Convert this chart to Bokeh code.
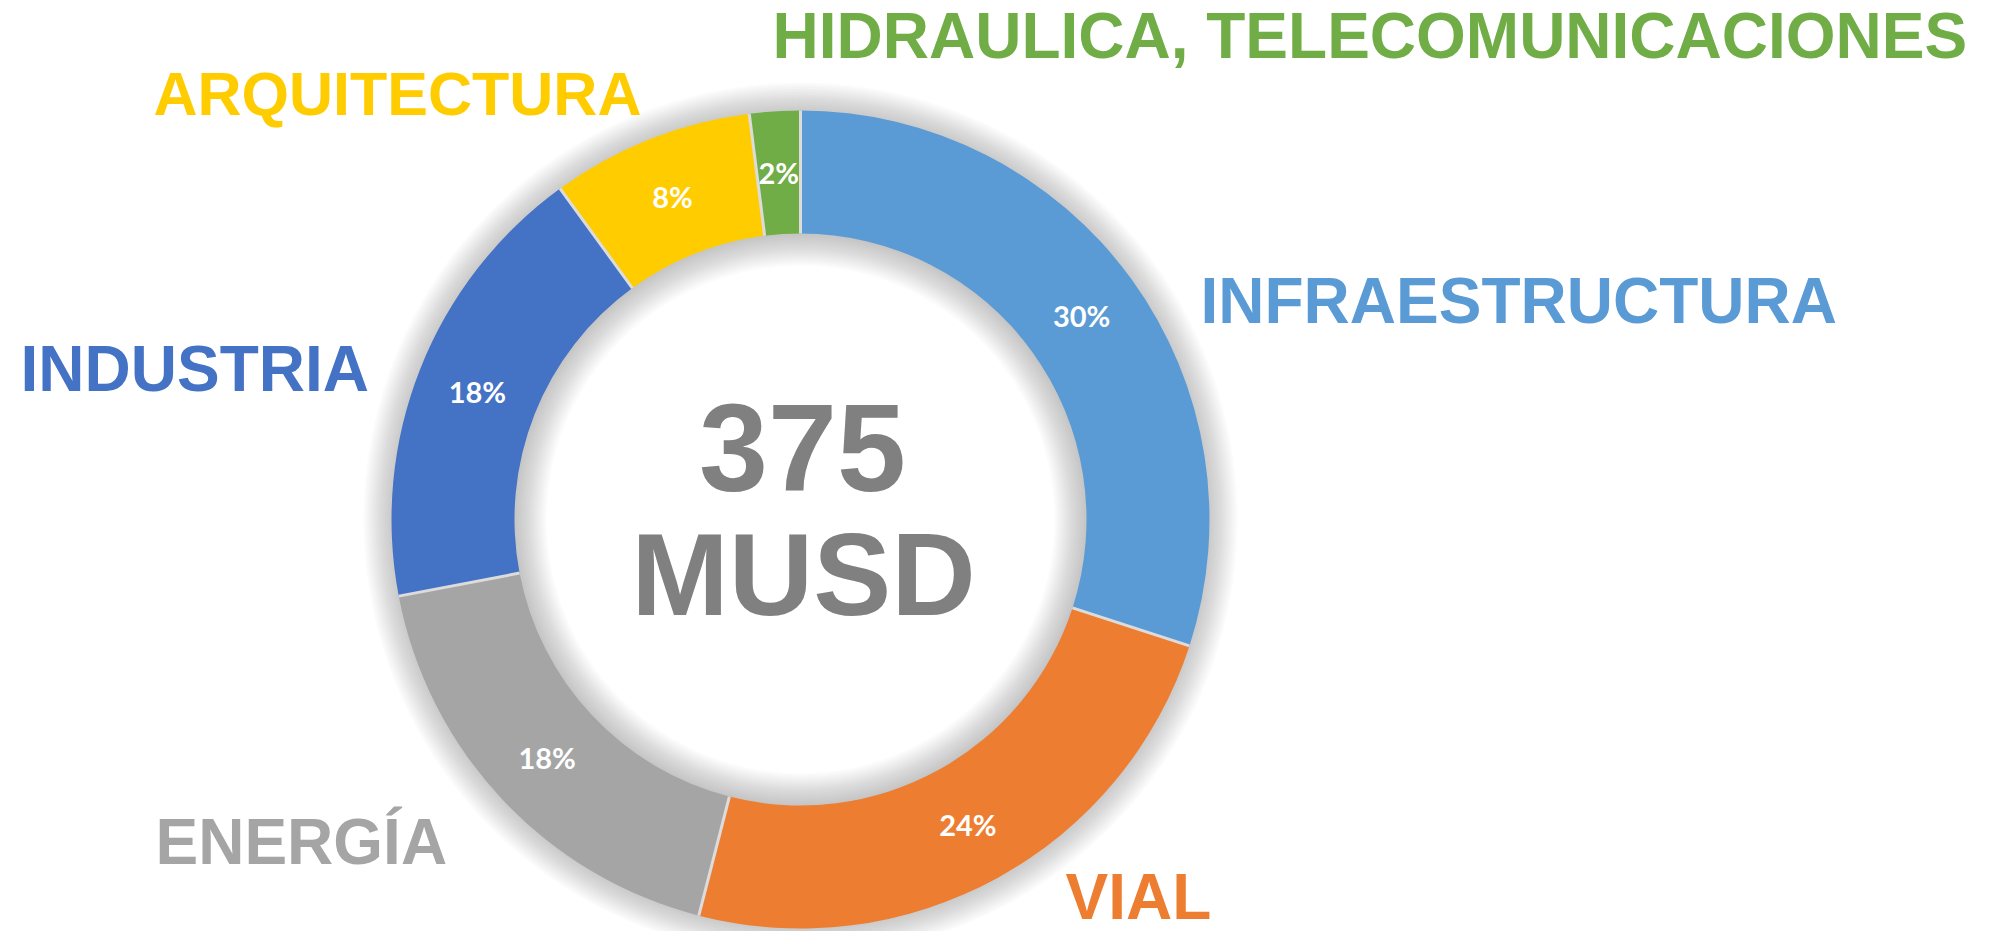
import numpy as np
from bokeh.plotting import figure
from bokeh.models import Range1d, ColumnDataSource
from bokeh.core.properties import value
from bokeh.embed import file_html
from bokeh.resources import INLINE

# ---- data ----
categories = ["INFRAESTRUCTURA", "VIAL", "ENERGÍA", "INDUSTRIA", "ARQUITECTURA",
              "HIDRAULICA, TELECOMUNICACIONES"]
shares = [30, 24, 18, 18, 8, 2]
colors = ["#5B9BD5", "#ED7D31", "#A5A5A5", "#4472C4", "#FFCC00", "#70AD47"]
total_value = "375"
total_unit = "MUSD"

# ---- layout ----
W, H = 1997, 931
CX, CY = 800, H - 519
R_OUT, R_IN = 409, 286

p = figure(width=W, height=H, output_backend="svg", toolbar_location=None,
           x_range=Range1d(0, W), y_range=Range1d(0, H), min_border=0,
           background_fill_color="white", border_fill_color="white")
p.axis.visible = False
p.grid.visible = False
p.outline_line_color = None

# soft shadow (outer and inner)
for d in range(2, 30, 2):
    p.annulus(x=[CX], y=[CY], inner_radius=R_OUT - 2, outer_radius=R_OUT + d,
              fill_color="#7f7f7f", fill_alpha=0.028, line_color=None)
for d in range(2, 34, 2):
    p.annulus(x=[CX], y=[CY], inner_radius=R_IN - d, outer_radius=R_IN + 2,
              fill_color="#7f7f7f", fill_alpha=0.028, line_color=None)

vals = np.array(shares, dtype=float)
frac = vals / vals.sum()
cum = np.concatenate([[0], np.cumsum(frac)])
theta0 = cum[:-1] * 2 * np.pi   # clockwise from top
theta1 = cum[1:] * 2 * np.pi
start = np.pi / 2 - theta1
end = np.pi / 2 - theta0
mid = (theta0 + theta1) / 2
r_mid = (R_OUT + R_IN) / 2

src = ColumnDataSource(dict(
    start=start, end=end, color=colors,
    lx=CX + r_mid * np.sin(mid), ly=CY + r_mid * np.cos(mid),
    pct=[f"{round(f * 100):.0f}%" for f in frac],
))

p.annular_wedge(x=CX, y=CY, inner_radius=R_IN, outer_radius=R_OUT,
                start_angle="start", end_angle="end", fill_color="color",
                line_color=None, source=src)

# separators
b = theta0
p.segment(x0=CX + R_IN * np.sin(b), y0=CY + R_IN * np.cos(b),
          x1=CX + R_OUT * np.sin(b), y1=CY + R_OUT * np.cos(b),
          line_color="#dcdcdc", line_width=3)

# percent labels
p.text(x="lx", y="ly", text="pct", source=src, text_color="white",
       text_font=value("Lato"), text_font_style="bold", text_font_size="29px",
       text_align="center", text_baseline="middle")

# category labels (x, baseline in screen px, font px)
label_pos = {
    "INFRAESTRUCTURA": (1200, 300, 64),
    "VIAL": (1065, 896, 64),
    "ENERGÍA": (155, 841, 64),
    "INDUSTRIA": (20, 368, 64),
    "ARQUITECTURA": (153, 93, 61),
    "HIDRAULICA, TELECOMUNICACIONES": (772, 35, 64),
}
for cat, col in zip(categories, colors):
    x, ys, fs = label_pos[cat]
    p.text(x=[x], y=[H - ys], text=[cat], text_color=col,
           text_font=value("Liberation Sans"), text_font_style="bold",
           text_font_size=f"{fs}px", text_align="left", text_baseline="alphabetic")

# center total
p.text(x=[CX + 2], y=[H - 447], text=[total_value], text_color="#808080",
       text_font=value("Liberation Sans"), text_font_style="bold",
       text_font_size="124px", text_align="center", text_baseline="alphabetic")
p.text(x=[CX + 3], y=[H - 574], text=[total_unit], text_color="#808080",
       text_font=value("Liberation Sans"), text_font_style="bold",
       text_font_size="117px", text_align="center", text_baseline="alphabetic")

open("out.html", "w").write(file_html(p, INLINE))
